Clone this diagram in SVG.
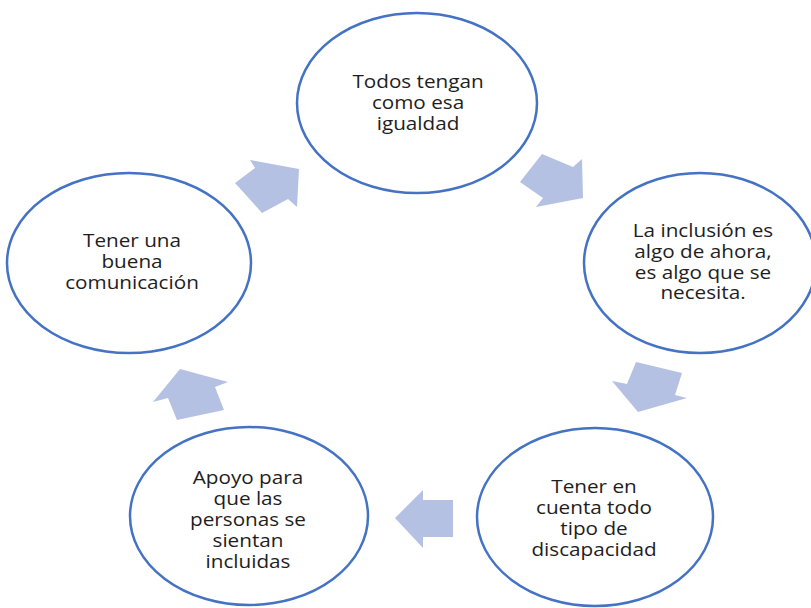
<svg xmlns="http://www.w3.org/2000/svg" width="811" height="608" viewBox="0 0 811 608">
<style>
.c{fill:#fff;stroke:#4472C4;stroke-width:2.5}
.a{fill:#B4C1E3}
.t{font-family:"Open Sans","Liberation Sans",sans-serif;font-size:18px;fill:#1e1e1e;text-anchor:middle}
</style>
<rect width="811" height="608" fill="#fff"/>
<g id="connectors">
<polygon class="a" points="235,183 255,168 250,160 299,169 297,207 288,199 262,213"/>
<polygon class="a" points="542,154 573,167 582,159 583,198 536,207 543,198 520,182"/>
<polygon class="a" points="636,362 682,373 675,395 687,398 638,412 612,381 627,384"/>
<polygon class="a" points="453,500 423,500 423,490 395,518 423,548 423,537 453,537"/>
<polygon class="a" points="180,369 228,382 215,387 224,410 177,420 168,398 153,402"/>
</g>
<g id="n1">
<ellipse class="c" cx="417" cy="103" rx="120" ry="90"/>
<g transform="translate(418 0) scale(1.15 1)"><text class="t"><tspan x="0" y="88">Todos tengan</tspan><tspan x="0" y="109">como esa</tspan><tspan x="0" y="130">igualdad</tspan></text></g>
</g>
<g id="n2">
<ellipse class="c" cx="700" cy="263" rx="116" ry="90"/>
<g transform="translate(703 0) scale(1.15 1)"><text class="t"><tspan x="0" y="237">La inclusión es</tspan><tspan x="0" y="258">algo de ahora,</tspan><tspan x="0" y="279">es algo que se</tspan><tspan x="0" y="299">necesita.</tspan></text></g>
</g>
<g id="n3">
<ellipse class="c" cx="595" cy="517" rx="118" ry="89"/>
<g transform="translate(594 0) scale(1.15 1)"><text class="t"><tspan x="0" y="493">Tener en</tspan><tspan x="0" y="514">cuenta todo</tspan><tspan x="0" y="535">tipo de</tspan><tspan x="0" y="556">discapacidad</tspan></text></g>
</g>
<g id="n4">
<ellipse class="c" cx="249" cy="516" rx="119" ry="89"/>
<g transform="translate(248 0) scale(1.15 1)"><text class="t"><tspan x="0" y="484">Apoyo para</tspan><tspan x="0" y="505">que las</tspan><tspan x="0" y="526">personas se</tspan><tspan x="0" y="547">sientan</tspan><tspan x="0" y="568">incluidas</tspan></text></g>
</g>
<g id="n5">
<ellipse class="c" cx="129" cy="263" rx="122" ry="90"/>
<g transform="translate(132 0) scale(1.15 1)"><text class="t"><tspan x="0" y="247">Tener una</tspan><tspan x="0" y="268">buena</tspan><tspan x="0" y="289">comunicación</tspan></text></g>
</g>
</svg>
